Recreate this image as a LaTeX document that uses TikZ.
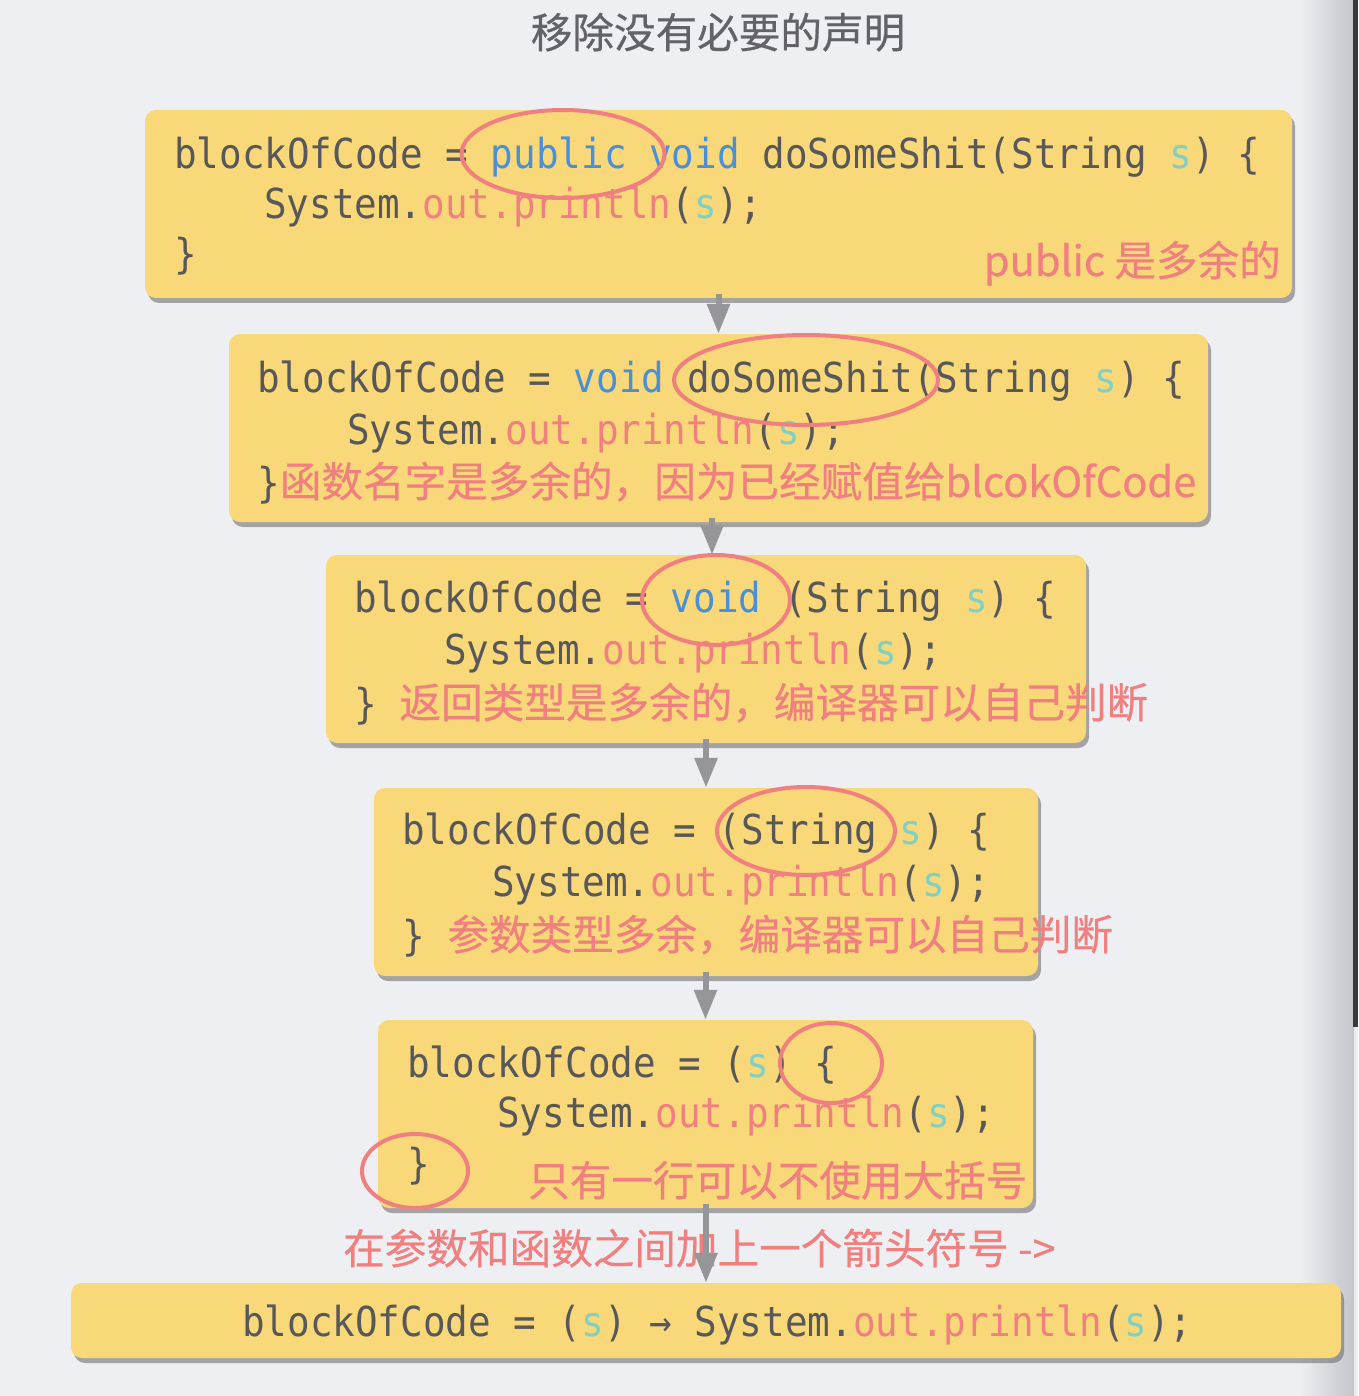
\documentclass[tikz,border=0pt]{standalone}
\usepackage{fontspec}
\usetikzlibrary{arrows.meta,shapes.geometric,shadows,calc}
\newfontfamily\codefont{DejaVu Sans Mono}[FakeStretch=0.91]
\newfontfamily\cjkfont{Noto Sans CJK SC}[FakeBold=0.5]
\definecolor{bgc}{RGB}{238,239,243}
\definecolor{boxy}{RGB}{248,216,120}
\definecolor{codegray}{RGB}{88,88,90}
\definecolor{kwblue}{RGB}{74,144,217}
\definecolor{fnpink}{RGB}{240,128,128}
\definecolor{varteal}{RGB}{128,208,196}
\definecolor{titlegray}{RGB}{98,98,104}
\definecolor{arrowgray}{RGB}{150,150,152}
\definecolor{shadegray}{RGB}{196,197,202}
\definecolor{darkbar}{RGB}{58,58,60}
\newcommand\kwd[1]{\textcolor{kwblue}{#1}}
\newcommand\fnc[1]{\textcolor{fnpink}{#1}}
\newcommand\vrs[1]{\textcolor{varteal}{#1}}
\newcommand\notefont{\cjkfont\fontsize{41.6}{50}\selectfont}
\tikzset{
  codebox/.style={rectangle, rounded corners=11pt, fill=boxy, inner sep=0pt,
    drop shadow={shadow xshift=3pt, shadow yshift=-5pt, fill=black!60, opacity=0.55}},
  codeline/.style={anchor=base west, inner sep=0pt, text=codegray,
    font=\codefont\fontsize{41.3}{50}\selectfont},
  note/.style={inner sep=0pt, text=fnpink, font=\notefont},
  ring/.style={ellipse, draw=fnpink, line width=4pt, inner sep=0pt},
  flow/.style={draw=arrowgray, line width=6pt, -{Triangle[width=22pt,length=30pt]}}
}
\begin{document}
\begin{tikzpicture}[x=1pt,y=-1pt]
\useasboundingbox (0,0) rectangle (1358,1396);
\fill[bgc] (0,0) rectangle (1358,1396);
\shade[left color=bgc, right color=shadegray] (1300,0) rectangle (1354,1396);
\fill[darkbar] (1353,0) rectangle (1358,1027);

\node[inner sep=0pt, anchor=base, text=titlegray, font=\notefont] (title) at (718,48) {移除没有必要的声明};

% boxes
\node[codebox, minimum width=1147pt, minimum height=188pt] (b1) at (718.5,204) {};
\node[codebox, minimum width=979pt, minimum height=188pt] (b2) at (718.5,428) {};
\node[codebox, minimum width=760pt, minimum height=188pt] (b3) at (706,649) {};
\node[codebox, minimum width=664pt, minimum height=188pt] (b4) at (706,882) {};
\node[codebox, minimum width=655pt, minimum height=188pt] (b5) at (705.5,1114) {};
\node[codebox, minimum width=1270pt, minimum height=75pt] (b6) at (706,1320.5) {};

% box 1
\node[codeline] (t1a) at (174,169) {blockOfCode = \kwd{public void} doSomeShit(String \vrs{s}) \{};
\node[codeline] (t1b) at (264,219) {System.\fnc{out.println}(\vrs{s});};
\node[codeline] (t1c) at (174,269) {\}};
\node[note, anchor=base east] (n1) at (1281,276) {public 是多余的};

% box 2
\node[codeline] (t2a) at (257,392) {blockOfCode = \kwd{void} doSomeShit(String \vrs{s}) \{};
\node[codeline] (t2b) at (347,444) {System.\fnc{out.println}(\vrs{s});};
\node[codeline] (t2c) at (257,497) {\}{\notefont\color{fnpink}函数名字是多余的，因为已经赋值给blcokOfCode}};

% box 3
\node[codeline] (t3a) at (354,612) {blockOfCode = \kwd{void} (String \vrs{s}) \{};
\node[codeline] (t3b) at (444,664) {System.\fnc{out.println}(\vrs{s});};
\node[codeline] (t3c) at (354,718) {\} {\notefont\color{fnpink}返回类型是多余的，编译器可以自己判断}};

% box 4
\node[codeline] (t4a) at (402,844) {blockOfCode = (String \vrs{s}) \{};
\node[codeline] (t4b) at (492,896) {System.\fnc{out.println}(\vrs{s});};
\node[codeline] (t4c) at (402,950) {\} {\notefont\color{fnpink}参数类型多余，编译器可以自己判断}};

% box 5
\node[codeline] (t5a) at (407,1077) {blockOfCode = (\vrs{s}) \{};
\node[codeline] (t5b) at (497,1127) {System.\fnc{out.println}(\vrs{s});};
\node[codeline] (t5c) at (407,1178) {\}};
\node[note, anchor=base west] (n5) at (528,1196) {只有一行可以不使用大括号};

% middle note
\node[note, anchor=base west] (n6) at (343,1264) {在参数和函数之间加上一个箭头符号 -{}>};

% box 6
\node[codeline] (t6) at (242,1336) {blockOfCode = (\vrs{s}) → System.\fnc{out.println}(\vrs{s});};

% rings
\node[ring, minimum width=203pt, minimum height=88pt] (e1) at (563,154) {};
\node[ring, minimum width=264pt, minimum height=90pt] (e2) at (806,380) {};
\node[ring, minimum width=148pt, minimum height=90pt] (e3) at (716,600) {};
\node[ring, minimum width=178pt, minimum height=88pt] (e4) at (806,831) {};
\node[ring, minimum width=102pt, minimum height=80pt] (e5) at (831,1063) {};
\node[ring, minimum width=106pt, minimum height=74pt] (e6) at (415,1171) {};

% arrows
\draw[flow] ($(b2.north |- b1.south)+(0,-4)$) -- (b2.north);
\draw[flow] ($(b3.north |- b2.south)+(6,-4)$) -- ($(b3.north)+(6,0)$);
\draw[flow] ($(b4.north |- b3.south)+(0,-4)$) -- (b4.north);
\draw[flow] ($(b5.north |- b4.south)+(0,-4)$) -- (b5.north);
\draw[flow] ($(b6.north |- b5.south)+(0,-4)$) -- (b6.north);
\end{tikzpicture}
\end{document}
